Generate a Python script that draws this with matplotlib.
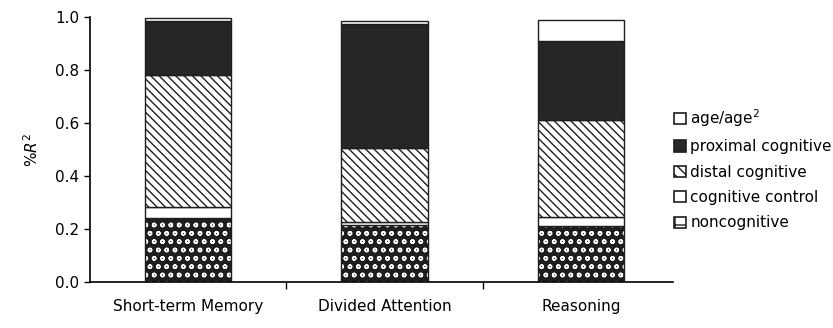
import matplotlib
matplotlib.use("Agg")
import matplotlib.pyplot as plt
from matplotlib.patches import Patch
import numpy as np

plt.rcParams['font.family'] = ['DejaVu Sans']
plt.rcParams['hatch.linewidth'] = 1.0

categories = ["Short-term Memory", "Divided Attention", "Reasoning"]
noncognitive = [0.24, 0.215, 0.21]
cognitive_control = [0.045, 0.01, 0.035]
distal = [0.495, 0.28, 0.365]
proximal = [0.205, 0.47, 0.30]
age = [0.01, 0.01, 0.08]

series = [
    ("noncognitive", noncognitive, dict(facecolor="#1e1e1e", edgecolor="white", hatch="oo")),
    ("cognitive control", cognitive_control, dict(facecolor="white", edgecolor="#1e1e1e", hatch=None)),
    ("distal cognitive", distal, dict(facecolor="white", edgecolor="#1e1e1e", hatch="\\\\\\\\")),
    ("proximal cognitive", proximal, dict(facecolor="#262626", edgecolor="#262626", hatch=None)),
    ("age/age$^2$", age, dict(facecolor="white", edgecolor="#444444", hatch=None)),
]

fig = plt.figure(figsize=(8.33, 3.28), dpi=100)
ax = fig.add_axes([0.108, 0.14, 0.70, 0.808])

x = np.arange(len(categories))
w = 0.44
bottom = np.zeros(len(categories))
for name, vals, st in series:
    ax.bar(x, vals, w, bottom=bottom, facecolor=st["facecolor"],
           edgecolor=st["edgecolor"], hatch=st["hatch"], linewidth=0)
    ax.bar(x, vals, w, bottom=bottom, facecolor="none", edgecolor="#1e1e1e", linewidth=1.0)
    bottom += np.array(vals)

ax.set_xlim(-0.5, 2.47)
ax.set_ylim(0, 1.0)
ax.set_yticks([0, 0.2, 0.4, 0.6, 0.8, 1.0])
ax.set_yticklabels(["0.0", "0.2", "0.4", "0.6", "0.8", "1.0"], fontsize=11)
ax.set_xticks(x)
ax.set_xticklabels(categories, fontsize=11)
ax.tick_params(axis="x", length=0, pad=12)
ax.set_xticks([0.5, 1.5], minor=True)
ax.tick_params(axis="x", which="minor", length=5, width=1)
ax.tick_params(axis="y", length=4, width=1, direction="out")
for s in ["top", "right"]:
    ax.spines[s].set_visible(False)
for s in ["left", "bottom"]:
    ax.spines[s].set_linewidth(1.2)
ax.set_ylabel("%$R^2$", fontsize=11, labelpad=10)

# legend handles: plain outlined squares, hatch kept light so the small box stays readable
handles = []
for name, vals, st in series[::-1]:
    if name == "noncognitive":
        h = Patch(facecolor="white", edgecolor="#1e1e1e", hatch="+", linewidth=1.2, label=name)
    elif name == "distal cognitive":
        h = Patch(facecolor="white", edgecolor="#1e1e1e", hatch="\\\\\\", linewidth=1.2, label=name)
    else:
        h = Patch(facecolor=st["facecolor"], edgecolor="#1e1e1e", linewidth=1.2, label=name)
    handles.append(h)
leg = fig.legend(handles=handles, loc="upper left", bbox_to_anchor=(0.793, 0.715),
                 frameon=False, fontsize=11, handlelength=0.75, handleheight=0.75,
                 handletextpad=0.3, labelspacing=0.68)

fig.savefig("out.png", dpi=100)
